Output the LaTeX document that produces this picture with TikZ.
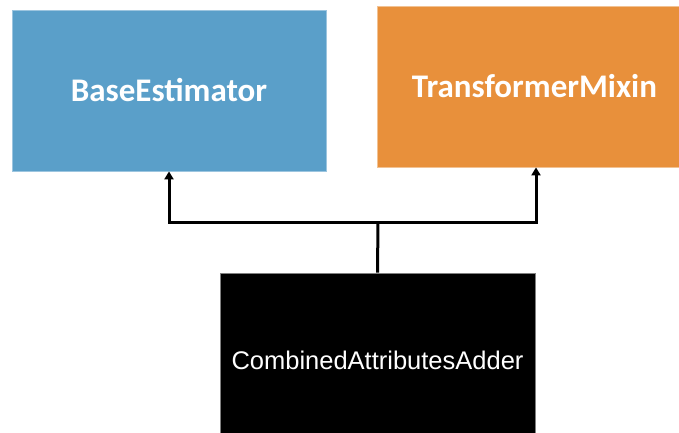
\documentclass[tikz,border=0pt]{standalone}
\usepackage{fontspec}
\setmainfont{Carlito}
\newfontfamily\adderfont{Liberation Sans}
\usepackage{xcolor}
\definecolor{colorBase}{HTML}{5A9FC9}
\definecolor{colorMixin}{HTML}{E8903B}
\usepackage{tikz}
\usetikzlibrary{arrows.meta, positioning}
\tikzset{
  classbox/.style={rectangle, minimum width=314pt, minimum height=161pt, inner sep=0pt, text=white},
  link/.style={-{Triangle[width=9pt, length=8pt]}, line width=3pt, black}
}

\begin{document}
\begin{tikzpicture}[x=1pt, y=-1pt]
\clip (0,0) rectangle (679,433);
\node[classbox, fill=colorBase, draw=colorBase!60!white, line width=0.8pt, font=\bfseries\fontsize{33}{33}\selectfont] (base) at (169,90.5) {BaseEstimator};
\node[classbox, fill=colorMixin, draw=colorMixin!55!white, line width=0.8pt, font=\bfseries\fontsize{33}{33}\selectfont] (mixin) at (534.5,86.5) {TransformerMixin};
\node[classbox, fill=black, draw=gray, line width=0.8pt, minimum width=315pt, minimum height=174pt, font=\adderfont\fontsize{25.5}{25.5}\selectfont] (adder) at (377.5,360) {CombinedAttributesAdder};
\coordinate (junction) at (378,222);
\draw[line width=3pt] (adder.north) -- (junction);
\draw[link] (junction) -| (base.south);
\draw[link] (junction) -| ([xshift=1.5pt]mixin.south);
\end{tikzpicture}
\end{document}
